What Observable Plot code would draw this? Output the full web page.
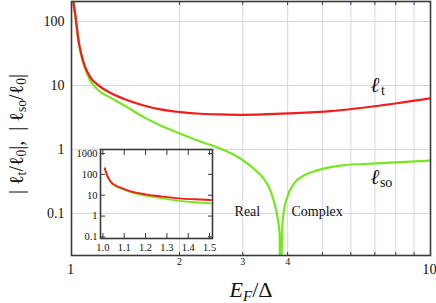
<!DOCTYPE html>
<html><head><meta charset="utf-8">
<script src="https://cdn.jsdelivr.net/npm/d3@7"></script>
<script src="https://cdn.jsdelivr.net/npm/@observablehq/plot@0.6"></script>
<style>
body{margin:0;background:#fff;}
#wrap{position:relative;width:436px;height:303px;font-family:'Liberation Serif','DejaVu Serif',serif;color:#111;}
#wrap svg{position:absolute;overflow:visible;font-family:'Liberation Serif','DejaVu Serif',serif !important;}
#ytitle{position:absolute;left:16px;top:134px;transform:translate(-50%,-50%) rotate(-90deg);white-space:pre;font-size:20px;line-height:1;}
#xtitle{position:absolute;left:251px;top:279px;transform:translateX(-50%);white-space:pre;font-size:22px;line-height:1;}
sub{font-size:0.68em;vertical-align:-0.25em;line-height:0;}
.it{font-style:italic;}
</style>
</head><body>
<div id="wrap">
  <div id="ytitle">| ℓ<sub>t</sub>/ℓ<sub>0</sub>|,  | ℓ<sub>so</sub>/ℓ<sub>0</sub>|</div>
  <div id="xtitle"><span class="it">E<sub>F</sub></span>/Δ</div>
</div>
<script>
// ---- data ----
const ltE   = [1.011, 1.0129, 1.024, 1.0346, 1.0459, 1.0642, 1.0918, 1.1274, 1.1891, 1.2844, 1.396, 1.590, 1.770, 2.012, 2.287, 2.60, 2.96, 3.3, 4.0, 5.27, 7.26, 10.0];
const ltVal = [240, 200, 132, 81.5, 50.5, 31.3, 19.3, 13.5, 10, 7.6, 6.2, 4.87, 4.22, 3.83, 3.61, 3.52, 3.48, 3.5, 3.65, 3.97, 4.86, 6.3];
const lsoE   = [1.011, 1.0129, 1.024, 1.0346, 1.0459, 1.0642, 1.0918, 1.1274, 1.1891, 1.2844, 1.429, 1.590, 1.770, 2.012, 2.287, 2.60, 2.96, 3.22, 3.43, 3.58, 3.70, 3.76, 3.80, 3.82, 3.86, 3.90, 3.99, 4.16, 4.44, 4.84, 5.27, 5.6, 7.26, 10.0];
const lsoVal = [235, 195, 128, 79, 48.5, 29.5, 18.2, 12.0, 8.36, 6.45, 4.58, 3.20, 2.37, 1.76, 1.33, 1.03, 0.716, 0.50, 0.349, 0.229, 0.125, 0.078, 0.048, 0.001, 0.054, 0.105, 0.18, 0.291, 0.392, 0.47, 0.529, 0.56, 0.61, 0.67];

const insetLtE    = [1.009, 1.02, 1.037, 1.06, 1.092, 1.14, 1.20, 1.28, 1.357, 1.43, 1.506];
const insetLtVal  = [196, 90, 44.6, 29, 21.4, 14.5, 11, 8.6, 7.1, 6.4, 5.9];
const insetLsoE   = [1.009, 1.02, 1.037, 1.06, 1.092, 1.14, 1.20, 1.28, 1.357, 1.43, 1.506];
const insetLsoVal = [190, 86, 42, 27, 19.5, 13, 9.5, 7, 5.3, 4.6, 4.1];

const mainXMajor = [1, 10];
const mainXMinor = [2, 3, 4, 5, 6, 7, 8, 9];
const mainYTicks = [0.1, 1, 10, 100];
const insetXTicks = [1.0, 1.1, 1.2, 1.3, 1.4, 1.5];
const insetYTicks = [0.1, 1, 10, 100, 1000];

const RED = "#f51b1b", GREEN = "#74e81c", FRAME = "#3a3a3a", GRID = "#d4d4f2";
const FONT = "'Liberation Serif', 'DejaVu Serif', serif";

const lt = ltE.map((e, i) => ({E: e, v: ltVal[i]}));
const lso = lsoE.map((e, i) => ({E: e, v: lsoVal[i]}));
const ilt = insetLtE.map((e, i) => ({E: e, v: insetLtVal[i]}));
const ilso = insetLsoE.map((e, i) => ({E: e, v: insetLsoVal[i]}));
const fmt = d => String(d);

const main = Plot.plot({
  width: 436, height: 303,
  marginLeft: 71, marginRight: 6, marginTop: 1, marginBottom: 48,
  x: {type: "log", domain: [1, 10]},
  y: {type: "log", domain: [0.022, 205]},
  style: {background: "transparent", color: "#111"},
  marks: [
    Plot.gridX(mainXMinor, {stroke: GRID, strokeOpacity: 1, strokeWidth: 1}),
    Plot.gridY(mainYTicks, {stroke: GRID, strokeOpacity: 1, strokeWidth: 1}),
    Plot.axisY(mainYTicks, {tickSize: 0, tickPadding: 7, fontSize: 14, fontFamily: FONT, tickFormat: fmt, label: null}),
    Plot.axisX(mainXMajor, {tickSize: 0, tickPadding: 8, fontSize: 14.5, fontFamily: FONT, tickFormat: fmt, label: null, dx: -1}),
    Plot.axisX(mainXMinor, {tickSize: 0, tickPadding: 2, fontSize: 10, fontFamily: FONT, tickFormat: fmt, label: null}),
    Plot.axisX(mainXMinor, {tickSize: -3, text: null, label: null, stroke: FRAME}),
    Plot.axisX(mainXMinor, {anchor: "top", tickSize: -3, text: null, label: null, stroke: FRAME}),
    Plot.line(lso, {x: "E", y: "v", stroke: GREEN, strokeWidth: 2.2, curve: "monotone-x", clip: true}),
    Plot.line(lt, {x: "E", y: "v", stroke: RED, strokeWidth: 2.2, curve: "monotone-x", clip: true}),
    Plot.frame({stroke: FRAME, strokeWidth: 1.6}),
    Plot.text(["Real"], {x: 3.09, y: 0.109, text: d => d, fontSize: 14, fontFamily: FONT, fill: "#111"}),
    Plot.text(["Complex"], {x: 4.1, y: 0.109, text: d => d, textAnchor: "start", fontSize: 14, fontFamily: FONT, fill: "#111"}),
    Plot.text(["ℓ"], {x: 7.0, y: 10, text: d => d, fontSize: 21, fontFamily: FONT, fontStyle: "italic", fill: "#111"}),
    Plot.text(["t"], {x: 7.0, y: 10, text: d => d, dx: 8, dy: 5, fontSize: 14, fontFamily: FONT, fill: "#111"}),
    Plot.text(["ℓ"], {x: 7.0, y: 0.365, text: d => d, fontSize: 21, fontFamily: FONT, fontStyle: "italic", fill: "#111"}),
    Plot.text(["so"], {x: 7.0, y: 0.365, text: d => d, dx: 5, dy: 5, textAnchor: "start", fontSize: 14, fontFamily: FONT, fill: "#111"})
  ]
});
main.style.left = "0px"; main.style.top = "0px";

const inset = Plot.plot({
  width: 150, height: 110,
  marginLeft: 30, marginRight: 8, marginTop: 4, marginBottom: 17,
  x: {domain: [0.989, 1.5136]},
  y: {type: "log", domain: [0.084, 1556]},
  style: {background: "transparent", color: "#111"},
  marks: [
    Plot.axisY(insetYTicks, {tickSize: 0, tickPadding: 3, fontSize: 10.5, fontFamily: FONT, tickFormat: fmt, label: null}),
    Plot.axisY(insetYTicks, {tickSize: -5, text: null, label: null, stroke: FRAME}),
    Plot.axisY(insetYTicks, {anchor: "right", tickSize: -5, text: null, label: null, stroke: FRAME}),
    Plot.axisX(insetXTicks, {tickSize: 0, tickPadding: 5, fontSize: 10.5, fontFamily: FONT, tickFormat: d => d.toFixed(1), label: null}),
    Plot.axisX(insetXTicks, {tickSize: -5, text: null, label: null, stroke: FRAME}),
    Plot.axisX(insetXTicks, {anchor: "top", tickSize: -5, text: null, label: null, stroke: FRAME}),
    Plot.line(ilso, {x: "E", y: "v", stroke: GREEN, strokeWidth: 1.8, curve: "monotone-x", clip: true}),
    Plot.line(ilt, {x: "E", y: "v", stroke: RED, strokeWidth: 1.8, curve: "monotone-x", clip: true}),
    Plot.frame({stroke: FRAME, strokeWidth: 1.6})
  ]
});
inset.style.left = "70px"; inset.style.top = "145px";

const wrap = document.getElementById("wrap");
wrap.insertBefore(main, wrap.firstChild);
wrap.appendChild(inset);
d3.selectAll("#wrap svg text").style("font-family", "'Liberation Serif', 'DejaVu Serif', serif");
</script>
</body></html>
